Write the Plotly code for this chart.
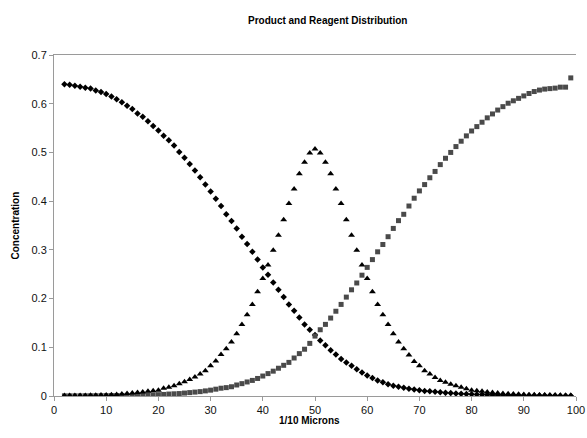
import plotly.graph_objects as go

x_vals = list(range(2, 100))

reagent_a = [
    0.640, 0.639, 0.637, 0.635, 0.633, 0.631, 0.627, 0.624, 0.620, 0.615,
    0.609, 0.603, 0.596, 0.589, 0.580, 0.573, 0.564, 0.554, 0.545, 0.534,
    0.525, 0.514, 0.501, 0.489, 0.476, 0.463, 0.449, 0.434, 0.420, 0.405,
    0.390, 0.373, 0.359, 0.344, 0.327, 0.312, 0.296, 0.280, 0.264, 0.249,
    0.233, 0.218, 0.203, 0.188, 0.175, 0.161, 0.147, 0.136, 0.125, 0.114,
    0.104, 0.094, 0.085, 0.076, 0.069, 0.062, 0.055, 0.048, 0.042, 0.037,
    0.032, 0.028, 0.024, 0.021, 0.019, 0.017, 0.015, 0.0135, 0.012, 0.0105,
    0.0095, 0.0085, 0.0075, 0.0065, 0.006, 0.0052, 0.0046, 0.004, 0.0036, 0.0032,
    0.0029, 0.0026, 0.0023, 0.002, 0.0018, 0.0016, 0.0015, 0.0013, 0.0012, 0.0011,
    0.001, 0.0009, 0.0009, 0.0008, 0.0008, 0.0007, 0.0007, 0.0007,
]

product = [
    0.0008, 0.0009, 0.001, 0.0011, 0.0012, 0.0014, 0.0016, 0.0018, 0.002, 0.0025,
    0.003, 0.004, 0.005, 0.006, 0.007, 0.008, 0.010, 0.011, 0.012, 0.016,
    0.018, 0.021, 0.025, 0.029, 0.034, 0.039, 0.045, 0.052, 0.062, 0.072,
    0.085, 0.097, 0.111, 0.128, 0.147, 0.167, 0.188, 0.214, 0.241, 0.269,
    0.299, 0.330, 0.362, 0.395, 0.425, 0.456, 0.480, 0.499, 0.507, 0.499,
    0.480, 0.456, 0.425, 0.395, 0.362, 0.330, 0.299, 0.269, 0.241, 0.214,
    0.188, 0.167, 0.147, 0.128, 0.111, 0.097, 0.084, 0.071, 0.062, 0.052,
    0.045, 0.038, 0.032, 0.028, 0.024, 0.021, 0.018, 0.015, 0.012, 0.011,
    0.0095, 0.008, 0.007, 0.006, 0.0052, 0.0045, 0.004, 0.0035, 0.003, 0.0027,
    0.0024, 0.0021, 0.0019, 0.0017, 0.0015, 0.0013, 0.0012, 0.0011,
]

reagent_b = [
    0.0003, 0.0003, 0.0004, 0.0004, 0.0005, 0.0005, 0.0006, 0.0007, 0.0008, 0.0009,
    0.001, 0.0011, 0.0012, 0.0013, 0.0015, 0.0017, 0.002, 0.0023, 0.0027, 0.0032,
    0.004, 0.0045, 0.005, 0.006, 0.007, 0.008, 0.009, 0.0105, 0.012, 0.014,
    0.016, 0.0172, 0.019, 0.0226, 0.0254, 0.0288, 0.032, 0.036, 0.041, 0.046,
    0.051, 0.057, 0.063, 0.069, 0.078, 0.087, 0.096, 0.108, 0.123, 0.136,
    0.147, 0.160, 0.174, 0.188, 0.203, 0.218, 0.232, 0.248, 0.264, 0.280,
    0.296, 0.311, 0.327, 0.344, 0.360, 0.373, 0.390, 0.406, 0.421, 0.434,
    0.448, 0.461, 0.475, 0.488, 0.500, 0.512, 0.523, 0.534, 0.544, 0.553,
    0.562, 0.571, 0.579, 0.587, 0.594, 0.601, 0.606, 0.611, 0.616, 0.621,
    0.625, 0.628, 0.630, 0.631, 0.632, 0.634, 0.634, 0.653,
]

title_text = "Product and Reagent Distribution"
x_title = "1/10 Microns"
y_title = "Concentration"

FONT = "Liberation Sans, Arial, sans-serif"

fig = go.Figure()
fig.add_trace(go.Scatter(
    x=x_vals, y=reagent_a, mode="markers", name="Reagent A",
    marker=dict(symbol="diamond", size=5, color="#000000", line=dict(width=0)),
))
fig.add_trace(go.Scatter(
    x=x_vals, y=reagent_b, mode="markers", name="Reagent B",
    marker=dict(symbol="square", size=5, color="#4a4a4a", line=dict(width=0)),
))
fig.add_trace(go.Scatter(
    x=x_vals, y=product, mode="markers", name="Product",
    marker=dict(symbol="triangle-up", size=6, color="#000000", line=dict(width=0)),
))

fig.update_layout(
    width=587, height=438,
    margin=dict(l=54, r=11, t=55, b=42, autoexpand=False),
    paper_bgcolor="white", plot_bgcolor="white",
    showlegend=False,
    hovermode=False,
    font=dict(family=FONT, size=11, color="#000000"),
    xaxis=dict(
        range=[0, 100], dtick=10, tick0=0, automargin=False,
        ticklabeloverflow="allow",
        showline=True, linecolor="#9a9a9a", linewidth=1, mirror=True,
        ticks="outside", ticklen=4, tickcolor="#9a9a9a",
        showgrid=False, zeroline=False,
        tickfont=dict(family=FONT, size=11, color="#111111"),
    ),
    yaxis=dict(
        range=[0, 0.7], dtick=0.1, tick0=0, automargin=False,
        showline=True, linecolor="#9a9a9a", linewidth=1,
        ticks="outside", ticklen=4, tickcolor="#9a9a9a",
        showgrid=False, zeroline=False,
        tickfont=dict(family=FONT, size=11, color="#111111"),
    ),
    annotations=[
        dict(text="<b>" + title_text + "</b>", xref="paper", yref="paper",
             x=0.523, y=1.0, yshift=35, xanchor="center", yanchor="middle",
             showarrow=False, font=dict(family=FONT, size=10, color="#000000")),
        dict(text="<b>" + x_title + "</b>", xref="paper", yref="paper",
             x=0.49, y=0.0, yshift=-24, xanchor="center", yanchor="middle",
             showarrow=False, font=dict(family=FONT, size=10, color="#000000")),
        dict(text="<b>" + y_title + "</b>", xref="paper", yref="paper",
             x=0.0, xshift=-39, y=0.5, xanchor="center", yanchor="middle",
             textangle=-90, showarrow=False,
             font=dict(family=FONT, size=10, color="#000000")),
    ],
)

# remove the default 8px page margin so the figure sits at the window's corner
fig.write_html(
    "out.html",
    config={"displayModeBar": False, "staticPlot": True},
    post_script="document.body.style.margin='0';document.body.style.overflow='hidden';",
)
